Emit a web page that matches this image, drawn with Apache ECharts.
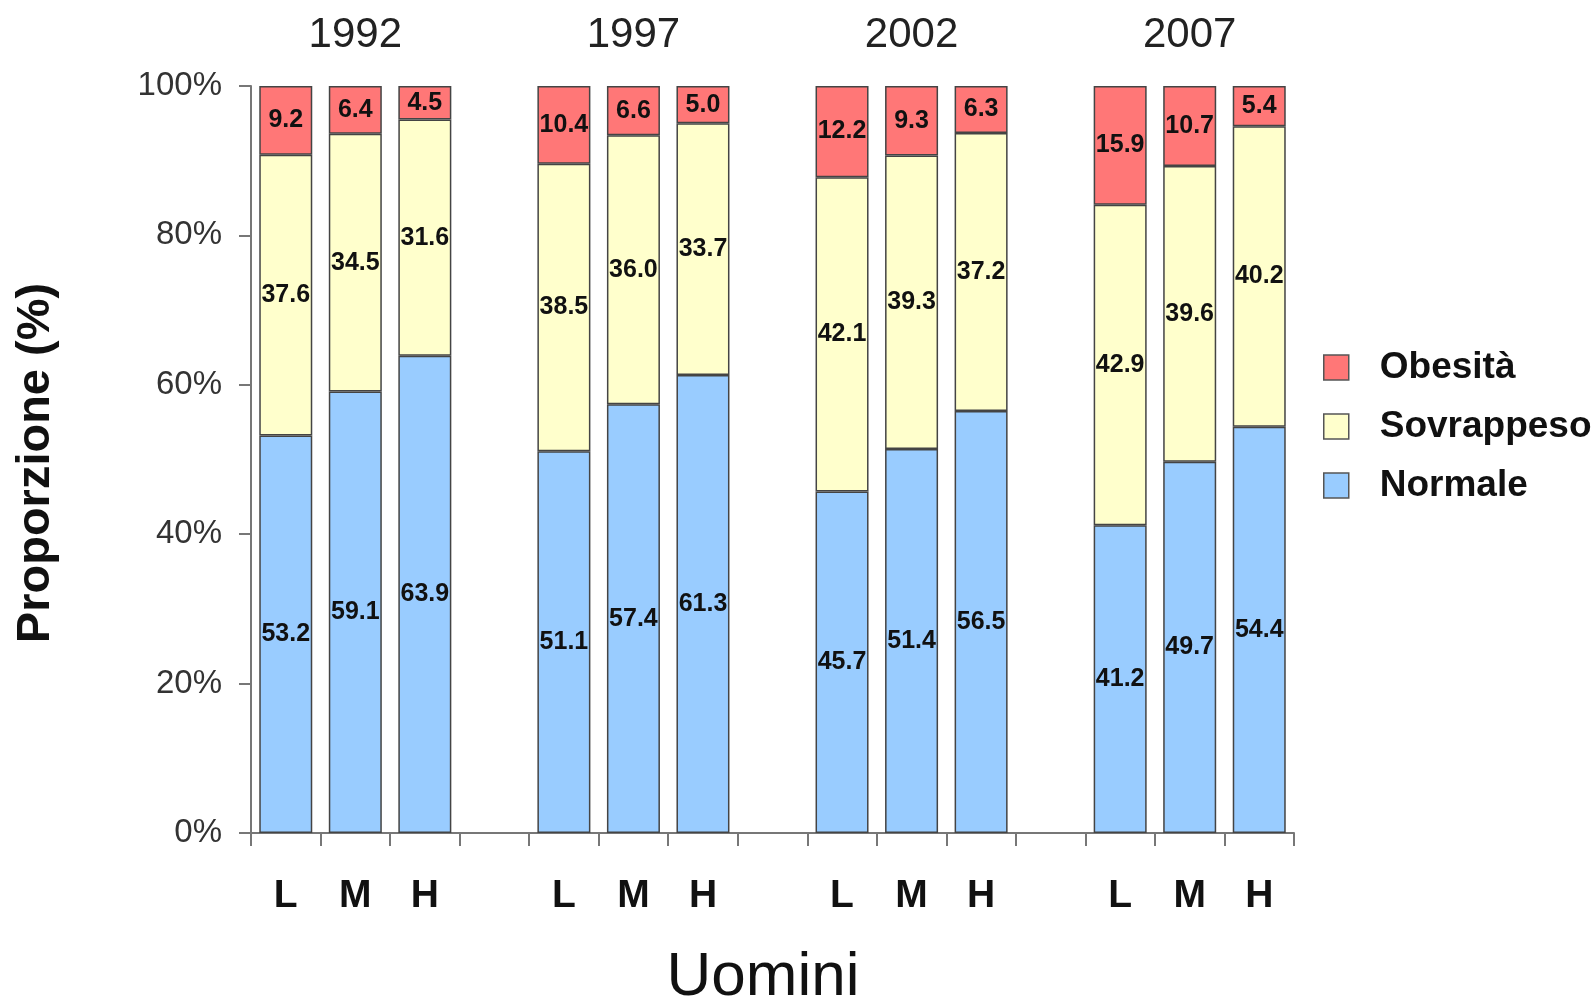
<!DOCTYPE html>
<html><head><meta charset="utf-8">
<script src="https://cdn.jsdelivr.net/npm/echarts@6/dist/echarts.min.js"></script>
<style>html,body{margin:0;padding:0;background:#fff}#c{width:1596px;height:1002px}</style>
</head><body><div id="c"></div>
<script>
const categories = ['L','M','H','', 'L','M','H','', 'L','M','H','', 'L','M','H'];
const yearLabels = ['','1992','','', '','1997','','', '','2002','','', '','2007',''];
const normale    = [53.2,59.1,63.9,null, 51.1,57.4,61.3,null, 45.7,51.4,56.5,null, 41.2,49.7,54.4];
const sovrappeso = [37.6,34.5,31.6,null, 38.5,36.0,33.7,null, 42.1,39.3,37.2,null, 42.9,39.6,40.2];
const obesita    = [9.2,6.4,4.5,null, 10.4,6.6,5.0,null, 12.2,9.3,6.3,null, 15.9,10.7,5.4];

const FONT = '"Liberation Sans", Arial, sans-serif';
const chart = echarts.init(document.getElementById('c'));
const lbl = {show:true, position:'inside', color:'#111', fontWeight:'bold', fontSize:25, fontFamily:FONT,
  formatter: p => p.value == null ? '' : Number(p.value).toFixed(1)};
const border = {borderColor:'#444', borderWidth:1.5};
function ser(name, data, color){
  return {name, type:'bar', stack:'t', data, barWidth:53, label:lbl,
    itemStyle:Object.assign({color}, border), emphasis:{disabled:true}};
}
chart.setOption({
  animation:false,
  grid:{left:251, right:302, top:86, bottom:169},
  legend:{orient:'vertical', left:1318, top:344, itemWidth:25, itemHeight:25, itemGap:22,
    icon:'rect', data:['Obesità','Sovrappeso','Normale'],
    itemStyle:{borderColor:'#555', borderWidth:1.5},
    textStyle:{fontFamily:FONT, fontWeight:'bold', fontSize:37, color:'#111', lineHeight:36, padding:[0,0,0,26]}},
  xAxis:[{type:'category', data:categories, position:'bottom',
    axisLine:{lineStyle:{color:'#777', width:2}},
    axisTick:{show:true, length:13, lineStyle:{color:'#777', width:2}},
    axisLabel:{margin:44, fontFamily:FONT, fontWeight:'bold', fontSize:39, color:'#111', interval:0}},
   {type:'category', data:yearLabels, position:'top',
    axisLine:{show:false}, axisTick:{show:false},
    axisLabel:{margin:30, fontFamily:FONT, fontSize:42, color:'#222', interval:0}}],
  yAxis:{type:'value', min:0, max:100, interval:20,
    axisLine:{show:true, lineStyle:{color:'#777', width:2}},
    axisTick:{show:true, length:12, lineStyle:{color:'#777', width:2}},
    splitLine:{show:false},
    axisLabel:{formatter:'{value}%', margin:29, fontFamily:FONT, fontSize:33, color:'#333', padding:[6,0,0,0]}},
  series:[ser('Normale', normale, '#99CCFF'), ser('Sovrappeso', sovrappeso, '#FFFFCC'), ser('Obesità', obesita, '#FF7777')],
  graphic:[
    {type:'text', x:763, y:978, style:{text:'Uomini', fontFamily:FONT, fontSize:62, fill:'#111', align:'center', verticalAlign:'middle'}},
    {type:'text', rotation:Math.PI/2, x:36, y:463, style:{text:'Proporzione (%)', fontFamily:FONT, fontWeight:'bold', fontSize:47, fill:'#111', align:'center', verticalAlign:'middle'}}
  ]
});
</script></body></html>
